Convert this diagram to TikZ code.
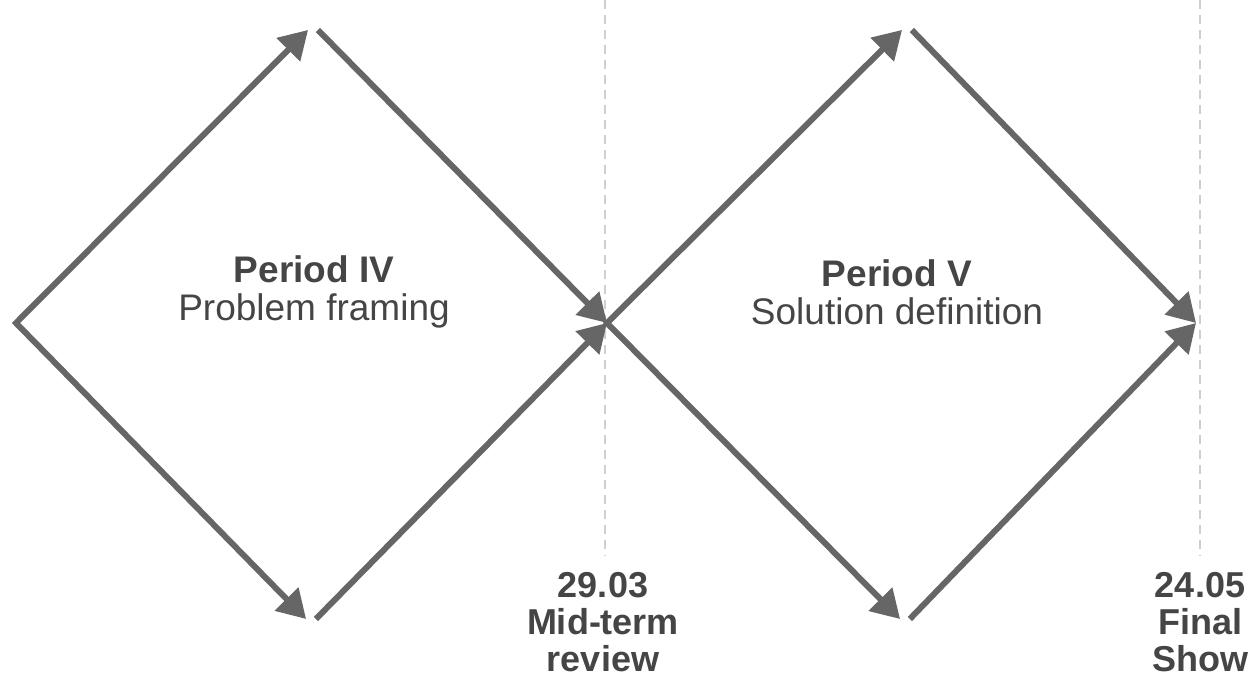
\documentclass[tikz,border=0pt]{standalone}
\usepackage{fontspec}
\setmainfont{Liberation Sans}
\usepackage{tikz}
\usepackage{xcolor}
\usetikzlibrary{arrows.meta}
\definecolor{arrowgray}{HTML}{666666}
\definecolor{dashgray}{HTML}{CFCFCF}
\definecolor{textgray}{HTML}{454545}
\tikzset{
    flow-line/.style = {draw=arrowgray, line width=6pt, line join=miter},
    flow-tip/.style = {-{Triangle[length=28pt, width=32pt]}},
    flow-tips/.style = {{Triangle[length=28pt, width=32pt]}-{Triangle[length=28pt, width=32pt]}},
    milestone-line/.style = {draw=dashgray, line width=2pt, dash pattern=on 9pt off 6pt},
    period-label/.style = {text=textgray, font=\fontsize{37}{38}\selectfont, align=center},
    milestone-label/.style = {text=textgray, font=\fontsize{36}{37}\selectfont\bfseries, align=center, inner sep=0pt},
}

\begin{document}
\begin{tikzpicture}[x=1pt, y=-1pt]
\useasboundingbox (0,0) rectangle (1257,679);

\coordinate (w1) at (16,323);
\coordinate (n1) at (313,25);
\coordinate (s1) at (311,624);
\coordinate (e1) at (607,323);
\coordinate (n2) at (907,25);
\coordinate (s2) at (905,624);
\coordinate (e2) at (1196,323);

\coordinate (mid-top) at (605,0);
\coordinate (mid-bottom) at (605,556);
\coordinate (final-top) at (1200,0);
\coordinate (final-bottom) at (1200,556);

\draw[milestone-line] (mid-top) -- (mid-bottom);
\draw[milestone-line] (final-top) -- (final-bottom);

\draw[flow-line, flow-tips, shorten <=7pt, shorten >=7pt] (n1) -- (w1) -- (s1);
\draw[flow-line, flow-tip, shorten <=7pt] (n1) -- (e1);
\draw[flow-line, flow-tip, shorten <=7pt] (s1) -- (e1);

\draw[flow-line, flow-tips, shorten <=7pt, shorten >=7pt] (n2) -- (e1) -- (s2);
\draw[flow-line, flow-tip, shorten <=7pt] (n2) -- (e2);
\draw[flow-line, flow-tip, shorten <=7pt] (s2) -- (e2);

\node[period-label] (period-iv) at (314,292) {\textbf{Period IV}\\Problem framing};
\node[period-label] (period-v) at (897,292) {\textbf{Period V}\\Solution definition};

\node[milestone-label] (mid-term) at (603,622) {29.03\\Mid-term\\review};
\node[milestone-label] (final-show) at (1200,622) {24.05\\Final\\Show};
\end{tikzpicture}
\end{document}
